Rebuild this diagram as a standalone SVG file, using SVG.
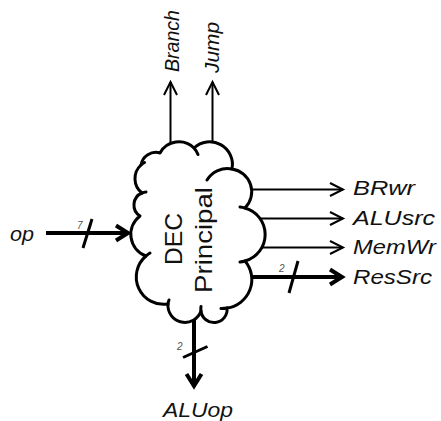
<svg xmlns="http://www.w3.org/2000/svg" width="441" height="421" viewBox="0 0 441 421">
  <style>
    .bg { fill: #ffffff; }
    .cloud { fill: #ffffff; stroke: #000; stroke-width: 3; stroke-linejoin: round; }
    .hook { fill: none; stroke: #000; stroke-width: 3; stroke-linecap: round; }
    .wire { fill: none; stroke: #000; stroke-width: 2; }
    .bus { fill: none; stroke: #000; stroke-width: 4; }
    .slash { fill: none; stroke: #000; stroke-width: 3; }
    .sig { font-family: "Liberation Sans", Arial, sans-serif; font-style: italic; font-size: 21px; fill: #111; }
    .title { font-family: "Liberation Sans", Arial, sans-serif; font-size: 24px; fill: #111; text-anchor: middle; }
    .width { font-family: "Liberation Sans", Arial, sans-serif; font-style: italic; font-size: 10px; fill: #555; }
  </style>
  <defs>
    <marker id="tip" markerUnits="userSpaceOnUse" viewBox="-16 -10 20 20" refX="0" refY="0" markerWidth="20" markerHeight="20" orient="auto" overflow="visible">
      <path d="M-13,-6.5 L0,0 L-13,6.5" fill="none" stroke="#000" stroke-width="2"/>
    </marker>
    <marker id="tip-bus" markerUnits="userSpaceOnUse" viewBox="-16 -10 20 20" refX="0" refY="0" markerWidth="20" markerHeight="20" orient="auto" overflow="visible">
      <path d="M-12,-7.5 L0,0 L-12,7.5" fill="none" stroke="#000" stroke-width="4"/>
    </marker>
  </defs>

  <rect class="bg" x="0" y="0" width="441" height="421"/>

  <!-- connectors -->
  <g id="connectors">
    <!-- control outputs on top -->
    <line class="wire" x1="170.5" y1="144" x2="170.5" y2="82" marker-end="url(#tip)"/>
    <line class="wire" x1="212.5" y1="143" x2="212.5" y2="82" marker-end="url(#tip)"/>
    <!-- opcode input bus -->
    <line class="bus" x1="46" y1="233" x2="128" y2="233" marker-end="url(#tip-bus)"/>
    <line class="slash" x1="92" y1="219" x2="83" y2="248"/>
    <!-- control outputs on the right -->
    <line class="wire" x1="251" y1="189.5" x2="343" y2="189.5" marker-end="url(#tip)"/>
    <line class="wire" x1="259" y1="218.5" x2="343" y2="218.5" marker-end="url(#tip)"/>
    <line class="wire" x1="261" y1="247.5" x2="343" y2="247.5" marker-end="url(#tip)"/>
    <line class="bus" x1="250" y1="277" x2="342" y2="277" marker-end="url(#tip-bus)"/>
    <line class="slash" x1="298" y1="261" x2="289" y2="293"/>
    <!-- ALU operation bus -->
    <line class="bus" x1="194" y1="320" x2="194" y2="386" marker-end="url(#tip-bus)"/>
    <line class="slash" x1="183" y1="357.5" x2="207.5" y2="346.5"/>
    <text class="width" x="77" y="229">7</text>
    <text class="width" x="279" y="272">2</text>
    <text class="width" x="177" y="350">2</text>
  </g>

  <!-- main decoder -->
  <g id="dec-principal">
    <path class="cloud" d="M141,165 A15 15 0 0 1 160,153 A21.6 21.6 0 0 1 194,148 A22.8 22.8 0 0 1 232,169 A23 23 0 0 1 245,208 A27.5 27.5 0 0 1 245,261 A28.7 28.7 0 0 1 227,308 A13 13 0 0 1 201,311 A17 17 0 0 1 168,304 A27.4 27.4 0 0 1 146,256 A23 23 0 0 1 140,216 A13 13 0 0 1 142,193 A18.3 18.3 0 0 1 141,165 Z"/>
    <!-- inner arcs of the cloud -->
    <path class="hook" d="M194,148 A21.6 21.6 0 0 1 198,154.5"/>
    <path class="hook" d="M207,180 A24 24 0 0 1 232,169"/>
    <path class="hook" d="M240,207 A27.5 27.5 0 0 1 245,208"/>
    <path class="hook" d="M245,261 A27.5 27.5 0 0 1 240,262"/>
    <path class="hook" d="M227,308 A28.7 28.7 0 0 1 221,308.5"/>
    <path class="hook" d="M201,311 A13 13 0 0 1 201,306.5"/>
    <path class="hook" d="M168,304 A17 17 0 0 1 169,300"/>
    <path class="hook" d="M146,256 A27.4 27.4 0 0 1 150,253"/>
    <path class="hook" d="M142,193 A13 13 0 0 1 146,192"/>
    <path class="hook" d="M141,165 A18.3 18.3 0 0 1 144.5,162.5"/>
    <text class="title" transform="translate(182,239) rotate(-90)" textLength="52" lengthAdjust="spacingAndGlyphs">DEC</text>
    <text class="title" transform="translate(212,240) rotate(-90)" textLength="106" lengthAdjust="spacingAndGlyphs">Principal</text>
  </g>

  <!-- signal names -->
  <g id="sig-branch"><text class="sig" transform="translate(179,72) rotate(-90)" textLength="62" lengthAdjust="spacingAndGlyphs">Branch</text></g>
  <g id="sig-jump"><text class="sig" transform="translate(219,73) rotate(-90)" textLength="51" lengthAdjust="spacingAndGlyphs">Jump</text></g>
  <g id="sig-op"><text class="sig" x="10" y="241" font-size="22" textLength="24" lengthAdjust="spacingAndGlyphs">op</text></g>
  <g id="sig-brwr"><text class="sig" x="353" y="195" textLength="62" lengthAdjust="spacingAndGlyphs">BRwr</text></g>
  <g id="sig-alusrc"><text class="sig" x="353" y="225" textLength="82" lengthAdjust="spacingAndGlyphs">ALUsrc</text></g>
  <g id="sig-memwr"><text class="sig" x="353" y="254" textLength="83" lengthAdjust="spacingAndGlyphs">MemWr</text></g>
  <g id="sig-ressrc"><text class="sig" x="353" y="284" textLength="79" lengthAdjust="spacingAndGlyphs">ResSrc</text></g>
  <g id="sig-aluop"><text class="sig" x="163" y="417" textLength="70" lengthAdjust="spacingAndGlyphs">ALUop</text></g>
</svg>
